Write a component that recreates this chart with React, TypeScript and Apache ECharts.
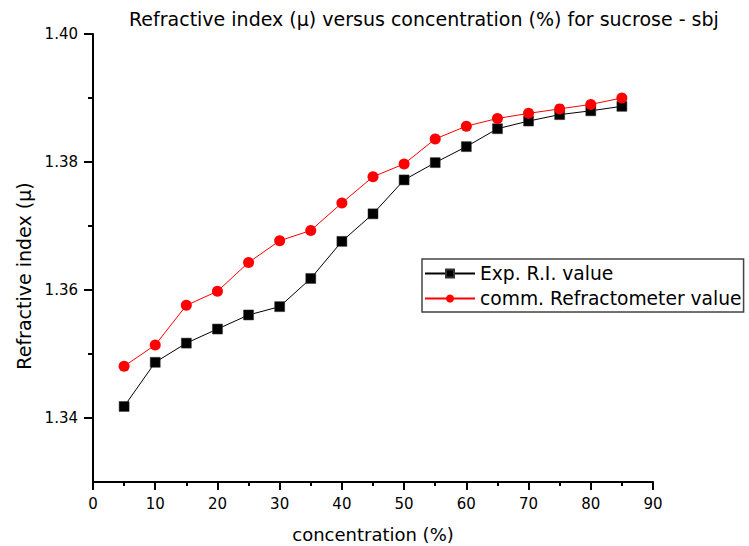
import React, { useEffect, useRef } from "react";
import * as echarts from "echarts";

const concentration = [5, 10, 15, 20, 25, 30, 35, 40, 45, 50, 55, 60, 65, 70, 75, 80, 85];
const expRI = [1.3418, 1.3487, 1.3517, 1.3539, 1.3561, 1.3574, 1.3618, 1.3676, 1.3719, 1.3772, 1.3799, 1.3824, 1.3852, 1.3864, 1.3874, 1.388, 1.3887];
const commRI = [1.3481, 1.3514, 1.3576, 1.3598, 1.3643, 1.3677, 1.3693, 1.3736, 1.3777, 1.3797, 1.3836, 1.3856, 1.3868, 1.3876, 1.3883, 1.389, 1.39];
const yMajorTicks = [1.34, 1.36, 1.38, 1.4];
const yMinorTicks = [1.35, 1.37, 1.39];
const seriesNames = ["Exp. R.I. value", "comm. Refractometer value"];
const titleText = "Refractive index (\u03bc) versus concentration (%) for sucrose - sbj";
const xName = "concentration (%)";
const yName = "Refractive index (\u03bc)";

const FONT = "DejaVu Sans";

export default function App() {
  const ref = useRef<HTMLDivElement>(null);
  useEffect(() => {
    if (!ref.current) return;
    const chart = echarts.init(ref.current, null, { renderer: "svg" });
    const expData = concentration.map((c, i) => [c, expRI[i]]);
    const commData = concentration.map((c, i) => [c, commRI[i]]);
    chart.setOption({
      animation: false,
      backgroundColor: "#ffffff",
      title: {
        text: titleText,
        left: 129,
        top: 9,
        padding: 0,
        textStyle: { fontFamily: FONT, fontSize: 19, fontWeight: "normal", color: "#000" },
      },
      graphic: [
        {
          type: "text",
          x: 24,
          y: 276,
          rotation: Math.PI / 2,
          style: {
            text: yName,
            fontFamily: FONT,
            fontSize: 19,
            fill: "#000",
            textAlign: "center",
            textVerticalAlign: "middle",
          },
        },
      ],
      legend: {
        orient: "vertical",
        left: 422,
        top: 259,
        padding: [5, 2, 4, 2],
        itemGap: 6,
        itemWidth: 50,
        itemHeight: 10,
        borderColor: "#444",
        borderWidth: 1.5,
        backgroundColor: "#fff",
        textStyle: { fontFamily: FONT, fontSize: 18.7, color: "#000" },
        data: seriesNames,
      },
      grid: { left: 93, right: 96, top: 34, bottom: 64, containLabel: false, outerBoundsMode: "none" },
      xAxis: {
        type: "value",
        min: 0,
        max: 90,
        interval: 10,
        name: xName,
        nameLocation: "middle",
        nameGap: 43,
        nameTextStyle: { fontFamily: FONT, fontSize: 18, color: "#000" },
        axisLine: { show: true, lineStyle: { color: "#000", width: 2 } },
        axisTick: { show: true, length: 8, lineStyle: { color: "#000", width: 2 } },
        minorTick: { show: true, splitNumber: 2, length: 4, lineStyle: { color: "#000", width: 2 } },
        axisLabel: { fontFamily: FONT, fontSize: 15, color: "#000", margin: 14 },
        splitLine: { show: false },
      },
      yAxis: [
        {
          type: "value",
          min: 1.33,
          max: 1.4,
          axisLine: { show: true, lineStyle: { color: "#000", width: 2 } },
          axisTick: { show: true, length: 9, customValues: yMajorTicks, lineStyle: { color: "#000", width: 2 } },
          axisLabel: {
            fontFamily: FONT,
            fontSize: 15,
            color: "#000",
            margin: 15,
            customValues: yMajorTicks,
            formatter: (v: number) => v.toFixed(2),
          },
          splitLine: { show: false },
        },
        {
          type: "value",
          min: 1.33,
          max: 1.4,
          position: "left",
          axisLine: { show: false },
          axisTick: { show: true, length: 5, customValues: yMinorTicks, lineStyle: { color: "#000", width: 2 } },
          axisLabel: { show: false },
          splitLine: { show: false },
        },
      ],
      series: [
        {
          name: seriesNames[0],
          type: "line",
          data: expData,
          yAxisIndex: 0,
          symbol: "rect",
          symbolSize: 10,
          lineStyle: { color: "#000", width: 1 },
          itemStyle: { color: "#000", borderColor: "#333", borderWidth: 0.5 },
          z: 2,
        },
        {
          name: seriesNames[1],
          type: "line",
          data: commData,
          yAxisIndex: 0,
          symbol: "circle",
          symbolSize: 11,
          lineStyle: { color: "#ff0000", width: 1 },
          itemStyle: { color: "#ff0000" },
          z: 3,
        },
      ],
    });
    return () => chart.dispose();
  }, []);
  return <div ref={ref} style={{ position: "fixed", left: 0, top: 0, width: 749, height: 546 }} />;
}
